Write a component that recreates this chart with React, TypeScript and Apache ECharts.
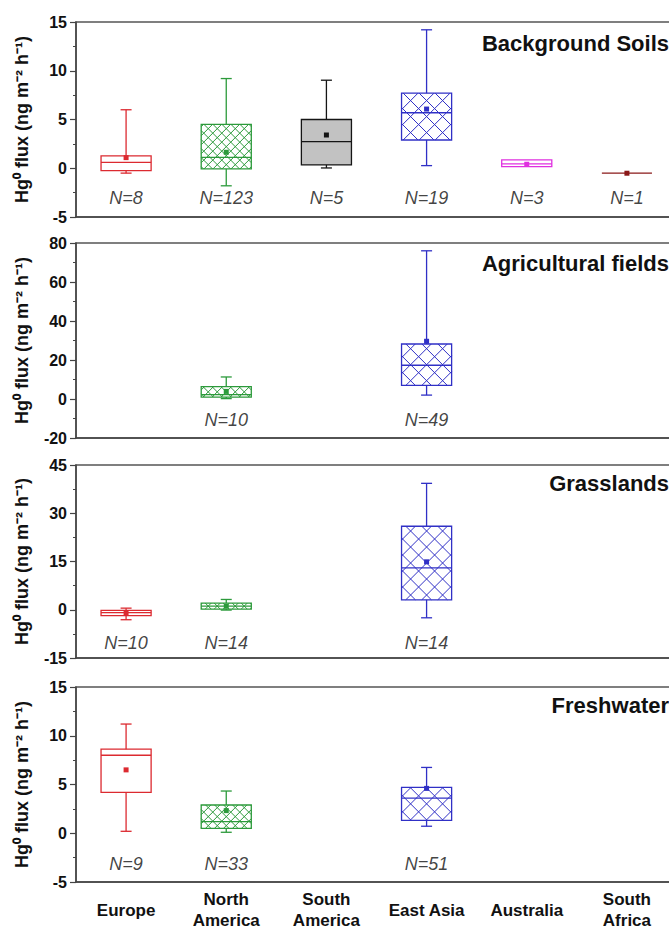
import React, { useEffect, useRef } from 'react';
import * as echarts from 'echarts';

// ---------- data ----------
const categories = ['Europe', 'North\nAmerica', 'South\nAmerica', 'East Asia', 'Australia', 'South\nAfrica'];

// rows: [categoryIndex, min, Q1, median, Q3, max, mean]
const soilsStats = [
  [0, -0.5, -0.24, 0.61, 1.26, 6.0, 1.09],
  [1, -1.8, -0.07, 1.12, 4.5, 9.2, 1.64],
  [2, 0.03, 0.34, 2.73, 5.0, 9.03, 3.41],
  [3, 0.27, 2.9, 5.69, 7.7, 14.2, 6.07],
  [4, 0.17, 0.17, 0.45, 0.85, 0.85, 0.41],
  [5, -0.51, -0.51, -0.51, -0.51, -0.51, -0.51],
];
const soilsN = [[0, 8], [1, 123], [2, 5], [3, 19], [4, 3], [5, 1]];

const agriStats = [
  [1, 0.2, 1.0, 2.2, 6.3, 11.3, 3.9],
  [3, 2.0, 7.0, 17.3, 28.2, 76.0, 29.6],
];
const agriN = [[1, 10], [3, 49]];

const grassStats = [
  [0, -3.1, -1.8, -0.9, -0.2, 0.5, -1.0],
  [1, -0.1, 0.2, 1.1, 2.07, 3.2, 1.1],
  [3, -2.5, 3.1, 13.0, 25.96, 39.3, 14.9],
];
const grassN = [[0, 10], [1, 14], [3, 14]];

const freshStats = [
  [0, 0.2, 4.19, 8.0, 8.62, 11.2, 6.5],
  [1, 0.1, 0.51, 1.19, 2.9, 4.33, 2.32],
  [3, 0.72, 1.33, 3.61, 4.7, 6.75, 4.6],
];
const freshN = [[0, 9], [1, 33], [3, 51]];

const panelTitles = ['Background Soils', 'Agricultural fields', 'Grasslands', 'Freshwater'];
const yMins = [-5, -20, -15, -5];
const yMaxs = [15, 80, 45, 15];
const yIntervals = [5, 20, 15, 5];

// ---------- style / layout ----------
const catColors = ['#dc2a30', '#2c9a3b', '#151515', '#3030c6', '#e030e0', '#8a1818'];
const catFill: (string | null)[] = [null, 'hatchS', '#c2c2c2', 'hatchL', null, null];
const gridTops = [22, 243, 465, 687];
const gridHeights = [195, 195, 193, 195];
const nLabelY = [-3.1, -10.6, -10.3, -3.2];
const titleCenters = [45, 265, 485, 707];
const FONT = '"Liberation Sans", Arial, sans-serif';

function hatchLines(x0: number, x1: number, top: number, bot: number, p: number, color: string) {
  const out: any[] = [];
  const xc = (x0 + x1) / 2;
  const yc = (top + bot) / 2;
  const c1 = yc - xc; // y = x + c
  for (let k = -60; k <= 60; k++) {
    const c = c1 + k * p;
    const xa = Math.max(x0, top - c);
    const xb = Math.min(x1, bot - c);
    if (xb > xa) {
      out.push({ type: 'line', shape: { x1: xa, y1: xa + c, x2: xb, y2: xb + c }, style: { stroke: color, lineWidth: 1 } });
    }
  }
  const c2 = yc + xc; // y = -x + c
  for (let k = -60; k <= 60; k++) {
    const c = c2 + k * p;
    const xa = Math.max(x0, c - bot);
    const xb = Math.min(x1, c - top);
    if (xb > xa) {
      out.push({ type: 'line', shape: { x1: xa, y1: c - xa, x2: xb, y2: c - xb }, style: { stroke: color, lineWidth: 1 } });
    }
  }
  return out;
}

function renderBox(params: any, api: any) {
  const ci = api.value(0);
  const pMin = api.coord([ci, api.value(1)]);
  const x = pMin[0];
  const yMin = pMin[1];
  const yQ1 = api.coord([ci, api.value(2)])[1];
  const yMed = api.coord([ci, api.value(3)])[1];
  const yQ3 = api.coord([ci, api.value(4)])[1];
  const yMax = api.coord([ci, api.value(5)])[1];
  const yMean = api.coord([ci, api.value(6)])[1];
  const band = api.size([1, 0])[0];
  const bw = band * 0.5;
  const x0 = x - bw / 2;
  const x1 = x + bw / 2;
  const top = Math.min(yQ1, yQ3);
  const bot = Math.max(yQ1, yQ3);
  const color = catColors[ci];
  const fill = catFill[ci];
  const lw = 1.3;
  const cap = 11;
  const children: any[] = [];
  if (fill && fill.startsWith('#')) {
    children.push({ type: 'rect', shape: { x: x0, y: top, width: bw, height: bot - top }, style: { fill, stroke: 'none' } });
  } else if (fill === 'hatchS') {
    children.push(...hatchLines(x0, x1, top, bot, 9, color));
  } else if (fill === 'hatchL') {
    children.push(...hatchLines(x0, x1, top, bot, 16, color));
  }
  if (Math.abs(yMax - top) > 0.5) {
    children.push({ type: 'line', shape: { x1: x, y1: top, x2: x, y2: yMax }, style: { stroke: color, lineWidth: lw } });
    children.push({ type: 'line', shape: { x1: x - cap / 2, y1: yMax, x2: x + cap / 2, y2: yMax }, style: { stroke: color, lineWidth: lw } });
  }
  if (Math.abs(yMin - bot) > 0.5) {
    children.push({ type: 'line', shape: { x1: x, y1: bot, x2: x, y2: yMin }, style: { stroke: color, lineWidth: lw } });
    children.push({ type: 'line', shape: { x1: x - cap / 2, y1: yMin, x2: x + cap / 2, y2: yMin }, style: { stroke: color, lineWidth: lw } });
  }
  if (bot - top > 0.5) {
    children.push({ type: 'rect', shape: { x: x0, y: top, width: bw, height: bot - top }, style: { fill: 'none', stroke: color, lineWidth: lw } });
  }
  children.push({ type: 'line', shape: { x1: x0, y1: yMed, x2: x1, y2: yMed }, style: { stroke: color, lineWidth: lw } });
  children.push({ type: 'rect', shape: { x: x - 2.5, y: yMean - 2.5, width: 5, height: 5 }, style: { fill: color, stroke: 'none' } });
  return { type: 'group', children };
}

const allStats = [soilsStats, agriStats, grassStats, freshStats];
const allN = [soilsN, agriN, grassN, freshN];

export default function App() {
  const ref = useRef<HTMLDivElement>(null);
  useEffect(() => {
    if (!ref.current) return;
    const chart = echarts.init(ref.current, null, { renderer: 'svg' });
    const grids: any[] = [];
    const xAxes: any[] = [];
    const yAxes: any[] = [];
    const series: any[] = [];
    const titles: any[] = [];
    for (let i = 0; i < 4; i++) {
      grids.push({
        left: 76, width: 601, top: gridTops[i], height: gridHeights[i],
        show: true, borderColor: '#555', borderWidth: 1.5, backgroundColor: 'transparent',
      });
      xAxes.push({
        type: 'category', gridIndex: i, data: categories, boundaryGap: true,
        axisLine: { onZero: false, lineStyle: { color: '#444', width: 1.5 } },
        axisTick: { alignWithLabel: true, length: 6, lineStyle: { color: '#444', width: 1.5 } },
        axisLabel: {
          show: i === 3, interval: 0, color: '#111', fontWeight: 'bold', fontSize: 17,
          fontFamily: FONT, lineHeight: 21, margin: 28, verticalAlign: 'middle',
        },
        splitLine: { show: false },
      });
      yAxes.push({
        type: 'value', gridIndex: i, min: yMins[i], max: yMaxs[i], interval: yIntervals[i],
        axisLine: { show: true, lineStyle: { color: '#444', width: 1.5 } },
        axisTick: { show: true, length: 6, lineStyle: { color: '#444', width: 1.2 } },
        minorTick: { show: true, splitNumber: 2, length: 3, lineStyle: { color: '#444', width: 1 } },
        axisLabel: { color: '#111', fontWeight: 'bold', fontSize: 16, fontFamily: FONT, margin: 9 },
        splitLine: { show: false },
        name: 'Hg\u2070 flux (ng m\u207B\u00B2 h\u207B\u00B9)',
        nameLocation: 'middle', nameRotate: 90, nameGap: 45,
        nameTextStyle: { color: '#111', fontWeight: 'bold', fontSize: 18, fontFamily: FONT },
      });
      series.push({
        type: 'custom', xAxisIndex: i, yAxisIndex: i,
        renderItem: renderBox,
        encode: { x: 0, y: [1, 2, 3, 4, 5, 6] },
        data: allStats[i],
        silent: true,
        clip: false,
      });
      series.push({
        type: 'scatter', xAxisIndex: i, yAxisIndex: i,
        symbolSize: 0,
        data: allN[i].map((d) => [d[0], nLabelY[i], d[1]]),
        label: {
          show: true, position: 'inside',
          formatter: (p: any) => 'N=' + p.value[2],
          color: '#111', fontStyle: 'italic', fontSize: 18, fontFamily: FONT,
        },
        silent: true,
      });
      titles.push({
        text: panelTitles[i], right: 11, top: titleCenters[i] - 13, padding: 0,
        textStyle: { color: '#111', fontWeight: 'bold', fontSize: 22, fontFamily: FONT },
      });
    }
    chart.setOption({
      animation: false,
      backgroundColor: '#ffffff',
      title: titles,
      grid: grids,
      xAxis: xAxes,
      yAxis: yAxes,
      series,
    });
    return () => chart.dispose();
  }, []);
  return (
    <div style={{ position: 'absolute', left: 0, top: 0, width: 669, height: 932, overflow: 'hidden' }}>
      <div ref={ref} style={{ width: 680, height: 932 }} />
    </div>
  );
}
